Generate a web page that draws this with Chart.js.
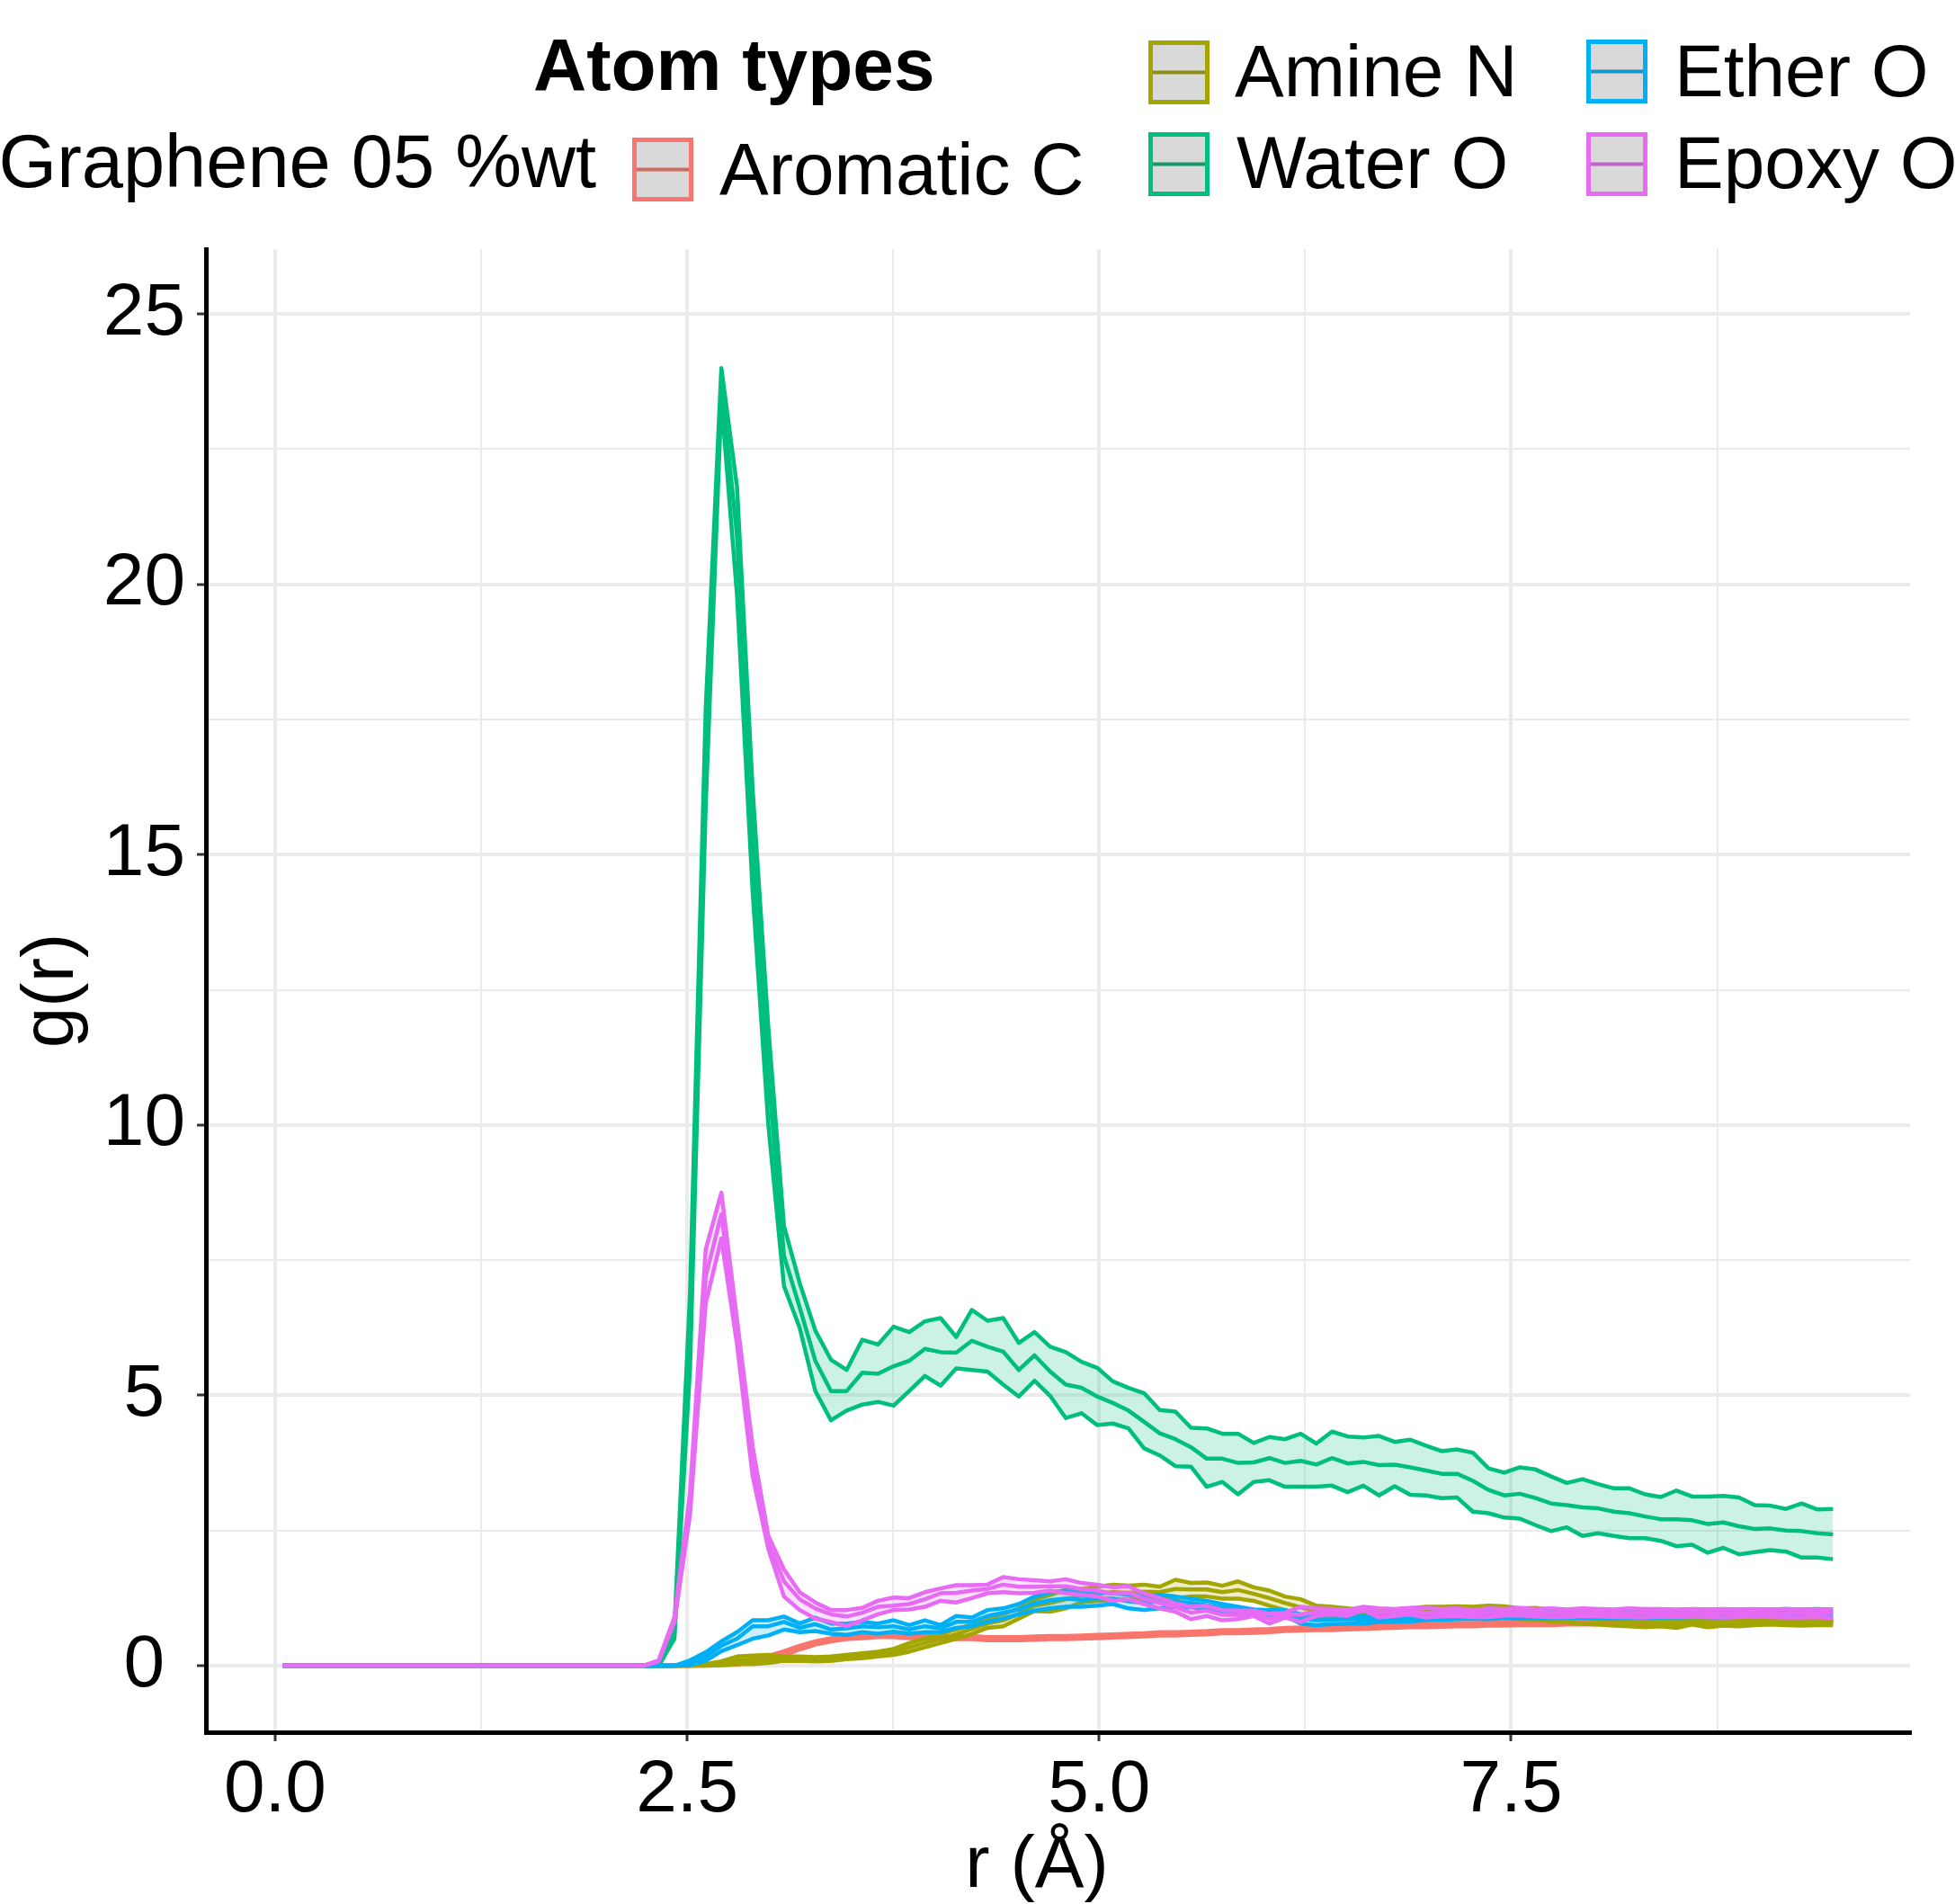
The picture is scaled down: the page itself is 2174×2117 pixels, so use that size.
<!DOCTYPE html>
<html>
<head>
<meta charset="utf-8">
<script src="https://cdn.jsdelivr.net/npm/chart.js@4.4.1/dist/chart.umd.min.js"></script>
<style>
  html, body { margin: 0; padding: 0; background: #fff; }
  #wrap { width: 2174px; height: 2117px; }
</style>
</head>
<body>
<div id="wrap"><canvas id="rdf" width="2174" height="2117"></canvas></div>
<script>
// r (Å) grid
const rVals = [
  0.0475,0.1425,0.2375,0.3325,0.4275,0.5225,0.6175,0.7125,0.8075,0.9025,
  0.9975,1.0925,1.1875,1.2825,1.3775,1.4725,1.5675,1.6625,1.7575,1.8525,
  1.9475,2.0425,2.1375,2.2325,2.3275,2.4225,2.5175,2.6125,2.7075,2.8025,
  2.8975,2.9925,3.0875,3.1825,3.2775,3.3725,3.4675,3.5625,3.6575,3.7525,
  3.8475,3.9425,4.0375,4.1325,4.2275,4.3225,4.4175,4.5125,4.6075,4.7025,
  4.7975,4.8925,4.9875,5.0825,5.1775,5.2725,5.3675,5.4625,5.5575,5.6525,
  5.7475,5.8425,5.9375,6.0325,6.1275,6.2225,6.3175,6.4125,6.5075,6.6025,
  6.6975,6.7925,6.8875,6.9825,7.0775,7.1725,7.2675,7.3625,7.4575,7.5525,
  7.6475,7.7425,7.8375,7.9325,8.0275,8.1225,8.2175,8.3125,8.4075,8.5025,
  8.5975,8.6925,8.7875,8.8825,8.9775,9.0725,9.1675,9.2625,9.3575,9.4525
];

// Aromatic C
const aromC_hi = [
  0,0,0,0,0,0,0,0,0,0, 0,0,0,0,0,0,0,0,0,0,
  0,0,0,0,0,0,0,0.02,0.05,0.08,
  0.12,0.18,0.27,0.37,0.45,0.51,0.55,0.57,0.59,0.59,
  0.57,0.56,0.55,0.55,0.55,0.53,0.53,0.53,0.54,0.55,
  0.55,0.56,0.57,0.58,0.59,0.60,0.62,0.62,0.63,0.64,
  0.66,0.66,0.67,0.68,0.70,0.71,0.72,0.72,0.73,0.74,
  0.75,0.76,0.77,0.77,0.78,0.79,0.79,0.80,0.80,0.81,
  0.81,0.81,0.82,0.82,0.82,0.83,0.82,0.83,0.83,0.84,
  0.83,0.84,0.84,0.84,0.85,0.84,0.85,0.85,0.85,0.85
];
const aromC_mid = [
  0,0,0,0,0,0,0,0,0,0, 0,0,0,0,0,0,0,0,0,0,
  0,0,0,0,0,0,0,0.01,0.03,0.05,
  0.09,0.15,0.23,0.34,0.42,0.48,0.52,0.54,0.56,0.56,
  0.54,0.53,0.52,0.52,0.52,0.50,0.50,0.50,0.51,0.52,
  0.52,0.53,0.54,0.55,0.56,0.57,0.59,0.59,0.60,0.61,
  0.63,0.63,0.64,0.65,0.67,0.68,0.69,0.69,0.70,0.71,
  0.72,0.73,0.74,0.74,0.75,0.76,0.76,0.77,0.77,0.78,
  0.78,0.78,0.79,0.79,0.79,0.80,0.79,0.80,0.80,0.81,
  0.80,0.81,0.81,0.81,0.82,0.81,0.82,0.82,0.82,0.82
];
const aromC_lo = [
  0,0,0,0,0,0,0,0,0,0, 0,0,0,0,0,0,0,0,0,0,
  0,0,0,0,0,0,0,0,0.01,0.02,
  0.06,0.12,0.19,0.30,0.39,0.45,0.49,0.51,0.53,0.53,
  0.51,0.50,0.49,0.49,0.49,0.47,0.47,0.47,0.48,0.49,
  0.49,0.50,0.51,0.52,0.53,0.54,0.56,0.56,0.57,0.58,
  0.60,0.60,0.61,0.62,0.64,0.65,0.66,0.66,0.67,0.68,
  0.69,0.70,0.71,0.71,0.72,0.73,0.73,0.74,0.74,0.75,
  0.75,0.75,0.76,0.76,0.76,0.77,0.76,0.77,0.77,0.78,
  0.77,0.78,0.78,0.78,0.79,0.78,0.79,0.79,0.79,0.79
];

// Amine N
const amineN_hi = [
  0,0,0,0,0,0,0,0,0,0, 0,0,0,0,0,0,0,0,0,0,
  0,0,0,0,0,0,0.01,0.03,0.08,0.17,
  0.19,0.20,0.17,0.17,0.16,0.17,0.20,0.23,0.26,0.31,
  0.42,0.50,0.59,0.67,0.77,0.87,0.95,1.06,1.22,1.31,
  1.41,1.42,1.46,1.50,1.48,1.50,1.46,1.59,1.53,1.54,
  1.48,1.56,1.45,1.39,1.28,1.23,1.11,1.09,1.06,1.03,
  1.03,1.04,1.06,1.09,1.09,1.10,1.09,1.11,1.10,1.06,
  1.07,1.03,1.00,0.98,0.93,0.91,0.89,0.86,0.85,0.84,
  0.84,0.82,0.82,0.84,0.82,0.84,0.84,0.83,0.84,0.84
];
const amineN_mid = [
  0,0,0,0,0,0,0,0,0,0, 0,0,0,0,0,0,0,0,0,0,
  0,0,0,0,0,0,0,0.01,0.04,0.10,
  0.11,0.12,0.13,0.13,0.12,0.13,0.16,0.18,0.21,0.25,
  0.34,0.42,0.50,0.58,0.68,0.78,0.84,0.96,1.11,1.16,
  1.23,1.30,1.33,1.36,1.35,1.37,1.36,1.42,1.41,1.41,
  1.36,1.40,1.33,1.25,1.16,1.08,1.00,0.99,0.98,0.97,
  0.96,0.98,1.00,1.02,1.02,1.02,1.01,1.02,1.00,0.96,
  0.96,0.93,0.90,0.88,0.85,0.83,0.81,0.79,0.79,0.77,
  0.80,0.77,0.78,0.79,0.79,0.80,0.79,0.78,0.80,0.80
];
const amineN_lo = [
  0,0,0,0,0,0,0,0,0,0, 0,0,0,0,0,0,0,0,0,0,
  0,0,0,0,0,0,0,0,0.01,0.03,
  0.03,0.05,0.09,0.09,0.08,0.09,0.12,0.14,0.17,0.20,
  0.26,0.34,0.42,0.50,0.59,0.70,0.73,0.87,1.01,1.00,
  1.06,1.17,1.20,1.21,1.23,1.24,1.26,1.25,1.28,1.28,
  1.24,1.24,1.20,1.11,1.03,0.92,0.89,0.89,0.89,0.92,
  0.89,0.93,0.95,0.96,0.95,0.94,0.92,0.92,0.89,0.86,
  0.85,0.82,0.80,0.78,0.76,0.74,0.73,0.71,0.73,0.70,
  0.76,0.71,0.74,0.73,0.75,0.76,0.75,0.74,0.75,0.75
];

// Water O
const waterO_hi = [
  0,0,0,0,0,0,0,0,0,0, 0,0,0,0,0,0,0,0,0,0,
  0,0,0,0,0.02,0.7,6.9,17.7,24.0,21.8,
  16.2,11.8,8.13,7.08,6.20,5.66,5.47,6.03,5.94,6.27,
  6.17,6.37,6.43,6.08,6.58,6.38,6.43,5.97,6.17,5.90,
  5.80,5.62,5.51,5.26,5.14,5.04,4.73,4.70,4.40,4.39,
  4.29,4.29,4.12,4.23,4.19,4.29,4.11,4.33,4.24,4.22,
  4.25,4.14,4.18,4.07,3.97,4.00,3.94,3.65,3.57,3.67,
  3.63,3.50,3.38,3.45,3.36,3.28,3.28,3.17,3.12,3.24,
  3.13,3.13,3.14,3.11,2.97,2.96,2.90,3.00,2.89,2.90
];
const waterO_mid = [
  0,0,0,0,0,0,0,0,0,0, 0,0,0,0,0,0,0,0,0,0,
  0,0,0,0,0.01,0.6,6.2,16.8,23.7,20.9,
  15.2,10.9,7.58,6.63,5.64,5.08,5.08,5.42,5.40,5.54,
  5.64,5.86,5.80,5.79,6.01,5.90,5.81,5.47,5.74,5.44,
  5.20,5.14,4.98,4.86,4.72,4.51,4.30,4.19,4.04,3.83,
  3.83,3.75,3.76,3.84,3.75,3.79,3.72,3.84,3.74,3.77,
  3.71,3.72,3.67,3.61,3.55,3.55,3.42,3.25,3.15,3.18,
  3.10,3.00,2.97,2.93,2.91,2.85,2.82,2.76,2.71,2.71,
  2.69,2.62,2.65,2.58,2.53,2.54,2.50,2.49,2.45,2.43
];
const waterO_lo = [
  0,0,0,0,0,0,0,0,0,0, 0,0,0,0,0,0,0,0,0,0,
  0,0,0,0,0,0.5,5.5,15.9,23.4,19.8,
  14.3,10.0,7.02,6.25,5.08,4.54,4.72,4.83,4.88,4.81,
  5.08,5.36,5.18,5.50,5.47,5.44,5.20,4.98,5.27,4.99,
  4.58,4.67,4.45,4.48,4.39,4.02,3.89,3.69,3.68,3.31,
  3.40,3.17,3.40,3.43,3.31,3.31,3.31,3.33,3.21,3.33,
  3.15,3.32,3.16,3.15,3.10,3.11,2.85,2.82,2.74,2.72,
  2.60,2.49,2.56,2.40,2.45,2.40,2.36,2.36,2.31,2.21,
  2.24,2.09,2.18,2.06,2.10,2.14,2.11,2.00,2.00,1.97
];

// Ether O
const etherO_hi = [
  0,0,0,0,0,0,0,0,0,0, 0,0,0,0,0,0,0,0,0,0,
  0,0,0,0,0,0,0.10,0.25,0.45,0.62,
  0.84,0.84,0.91,0.78,0.89,0.78,0.78,0.81,0.78,0.84,
  0.75,0.84,0.75,0.92,0.89,1.03,1.06,1.14,1.28,1.36,
  1.39,1.34,1.36,1.34,1.31,1.28,1.31,1.28,1.24,1.20,
  1.14,1.09,1.04,1.03,1.03,0.95,0.92,0.93,0.93,0.92,
  0.92,0.92,0.95,0.98,0.99,1.00,1.01,1.00,1.02,1.01,
  1.03,1.01,1.02,1.04,1.02,1.01,1.03,1.02,1.03,1.02,
  1.03,1.04,1.03,1.04,1.03,1.04,1.05,1.04,1.05,1.04
];
const etherO_mid = [
  0,0,0,0,0,0,0,0,0,0, 0,0,0,0,0,0,0,0,0,0,
  0,0,0,0,0,0,0.05,0.17,0.37,0.50,
  0.73,0.73,0.81,0.70,0.77,0.67,0.69,0.73,0.71,0.73,
  0.67,0.73,0.69,0.81,0.81,0.92,0.98,1.04,1.15,1.21,
  1.24,1.22,1.24,1.24,1.19,1.16,1.19,1.19,1.16,1.12,
  1.07,1.02,0.98,0.97,0.97,0.87,0.84,0.85,0.86,0.85,
  0.86,0.87,0.88,0.91,0.92,0.93,0.94,0.93,0.95,0.94,
  0.95,0.94,0.95,0.96,0.95,0.94,0.96,0.95,0.96,0.95,
  0.96,0.97,0.96,0.97,0.96,0.97,0.98,0.97,0.98,0.98
];
const etherO_lo = [
  0,0,0,0,0,0,0,0,0,0, 0,0,0,0,0,0,0,0,0,0,
  0,0,0,0,0,0,0.01,0.09,0.27,0.38,
  0.50,0.56,0.67,0.62,0.64,0.59,0.57,0.62,0.59,0.63,
  0.59,0.62,0.62,0.70,0.73,0.81,0.87,0.95,1.02,1.06,
  1.09,1.09,1.11,1.14,1.06,1.03,1.06,1.09,1.08,1.04,
  1.00,0.95,0.92,0.92,0.92,0.78,0.75,0.77,0.78,0.78,
  0.81,0.81,0.82,0.84,0.85,0.86,0.87,0.86,0.88,0.87,
  0.88,0.88,0.88,0.89,0.88,0.87,0.89,0.88,0.89,0.89,
  0.90,0.90,0.89,0.91,0.90,0.91,0.92,0.91,0.92,0.92
];

// Epoxy O
const epoxyO_hi = [
  0,0,0,0,0,0,0,0,0,0, 0,0,0,0,0,0,0,0,0,0,
  0,0,0,0,0.10,0.90,3.2,7.7,8.75,6.4,
  4.05,2.40,1.78,1.36,1.17,1.03,1.03,1.07,1.20,1.26,
  1.25,1.36,1.43,1.49,1.49,1.50,1.64,1.60,1.58,1.56,
  1.60,1.53,1.50,1.45,1.47,1.34,1.25,1.15,1.09,1.11,
  1.03,1.02,1.02,0.96,0.98,1.09,1.06,1.05,1.03,1.09,
  1.06,1.05,1.07,1.07,1.05,1.06,1.03,1.06,1.05,1.07,
  1.05,1.06,1.04,1.06,1.05,1.04,1.06,1.05,1.05,1.04,
  1.05,1.04,1.05,1.04,1.05,1.04,1.05,1.04,1.04,1.04
];
const epoxyO_mid = [
  0,0,0,0,0,0,0,0,0,0, 0,0,0,0,0,0,0,0,0,0,
  0,0,0,0,0.09,0.85,3.0,7.2,8.35,6.18,
  3.78,2.28,1.56,1.23,1.06,0.95,0.91,0.98,1.09,1.11,
  1.14,1.23,1.34,1.35,1.39,1.42,1.50,1.46,1.46,1.47,
  1.47,1.42,1.39,1.33,1.35,1.24,1.16,1.08,0.98,1.02,
  0.94,0.94,0.97,0.87,0.94,0.95,0.99,1.00,0.98,1.06,
  0.98,0.99,1.01,0.98,0.98,0.99,0.97,0.98,0.99,1.00,
  0.98,0.98,0.97,0.99,0.98,0.97,0.98,0.97,0.98,0.97,
  0.98,0.97,0.97,0.97,0.98,0.97,0.97,0.96,0.97,0.96
];
const epoxyO_lo = [
  0,0,0,0,0,0,0,0,0,0, 0,0,0,0,0,0,0,0,0,0,
  0,0,0,0,0.08,0.80,2.8,6.7,7.9,5.94,
  3.50,2.16,1.28,1.03,0.87,0.81,0.73,0.84,0.95,1.03,
  1.04,1.09,1.20,1.17,1.25,1.34,1.36,1.34,1.35,1.39,
  1.34,1.31,1.28,1.20,1.23,1.14,1.06,1.00,0.86,0.92,
  0.84,0.86,0.92,0.78,0.89,0.81,0.92,0.95,0.92,1.03,
  0.89,0.92,0.95,0.89,0.91,0.92,0.90,0.90,0.93,0.93,
  0.91,0.90,0.90,0.92,0.91,0.90,0.90,0.89,0.91,0.90,
  0.91,0.90,0.89,0.90,0.91,0.90,0.89,0.89,0.90,0.88
];

const seriesNames = ['Aromatic C', 'Amine N', 'Water O', 'Ether O', 'Epoxy O'];
const legendTitle = 'Atom types';
const groupLabel = 'Graphene 05 %wt';
const xTitle = 'r (Å)';
const yTitle = 'g(r)';

const xTicks = [0, 1.25, 2.5, 3.75, 5, 6.25, 7.5, 8.75];
const xTickLabels = ['0.0', '', '2.5', '', '5.0', '', '7.5', ''];
const yTicks = [0, 2.5, 5, 7.5, 10, 12.5, 15, 17.5, 20, 22.5, 25];
const yTickLabels = ['0', '', '5', '', '10', '', '15', '', '20', '', '25'];

// ggplot hue palette
const colors = {
  'Aromatic C': '#F8766D',
  'Amine N': '#A3A500',
  'Water O': '#00BF7D',
  'Ether O': '#00B0F6',
  'Epoxy O': '#E76BF3'
};
const keyLineColors = {
  'Aromatic C': '#d06a5e',
  'Amine N': '#8c8d12',
  'Water O': '#13996a',
  'Ether O': '#1a95c8',
  'Epoxy O': '#c162ca'
};
const bands = {
  'Aromatic C': [aromC_hi, aromC_mid, aromC_lo],
  'Amine N': [amineN_hi, amineN_mid, amineN_lo],
  'Water O': [waterO_hi, waterO_mid, waterO_lo],
  'Ether O': [etherO_hi, etherO_mid, etherO_lo],
  'Epoxy O': [epoxyO_hi, epoxyO_mid, epoxyO_lo]
};

const FONT = '"Liberation Sans", Arial, Helvetica, sans-serif';
Chart.defaults.font.family = FONT;

function hexA(hex, a) {
  const n = parseInt(hex.slice(1), 16);
  return `rgba(${(n >> 16) & 255},${(n >> 8) & 255},${n & 255},${a})`;
}
const toPts = (arr) => rVals.map((r, i) => ({ x: r, y: arr[i] }));

// first dataset is painted last in Chart.js, so Epoxy O goes first (on top like ggplot)
const datasets = [];
seriesNames.slice().reverse().forEach(name => {
  const [hi, mid, lo] = bands[name];
  const col = colors[name];
  const base = {
    borderColor: col, borderWidth: 4.5, pointRadius: 0, tension: 0,
    borderJoinStyle: 'round', borderCapStyle: 'butt'
  };
  datasets.push({ ...base, label: name + ' hi', data: toPts(hi), fill: '+2', backgroundColor: hexA(col, 0.2) });
  datasets.push({ ...base, label: name, data: toPts(mid), fill: false });
  datasets.push({ ...base, label: name + ' lo', data: toPts(lo), fill: false });
});

// legend keys placed like the ggplot legend
const keySpots = {
  'Aromatic C': { x: 703, y: 153, tx: 800, ty: 216 },
  'Amine N': { x: 1277, y: 45, tx: 1373, ty: 107 },
  'Water O': { x: 1277, y: 147, tx: 1375, ty: 209 },
  'Ether O': { x: 1764, y: 44, tx: 1862, ty: 107 },
  'Epoxy O': { x: 1764, y: 147, tx: 1862, ty: 209 }
};

const legendPlugin = {
  id: 'atomLegend',
  afterDraw(chart) {
    const ctx = chart.ctx;
    ctx.save();
    ctx.fillStyle = '#000';
    ctx.textBaseline = 'alphabetic';
    ctx.textAlign = 'left';
    ctx.font = `bold 82px ${FONT}`;
    ctx.fillText(legendTitle, 593, 100);
    ctx.font = `83px ${FONT}`;
    ctx.textAlign = 'right';
    ctx.fillText(groupLabel, 663, 208);
    ctx.font = `82px ${FONT}`;
    ctx.textAlign = 'left';
    seriesNames.forEach(name => {
      const k = keySpots[name];
      const w = 68, h = 71;
      ctx.fillStyle = '#d9d9d9';
      ctx.fillRect(k.x, k.y, w, h);
      ctx.strokeStyle = colors[name];
      ctx.lineWidth = 5;
      ctx.strokeRect(k.x + 2.5, k.y + 2.5, w - 5, h - 5);
      ctx.strokeStyle = keyLineColors[name];
      ctx.lineWidth = 4;
      ctx.beginPath();
      ctx.moveTo(k.x + 5, k.y + h / 2);
      ctx.lineTo(k.x + w - 5, k.y + h / 2);
      ctx.stroke();
      ctx.fillStyle = '#000';
      ctx.fillText(name, k.tx, k.ty);
    });
    // x axis title, sitting a little left of the panel centre as in the original
    ctx.textAlign = 'center';
    ctx.fillText(xTitle, 1153, 2098);
    ctx.restore();
  }
};

const gridLine = (c) => (c.index % 2 === 0 ? 4 : 2);
const tickCol = (c) => (c.index % 2 === 0 ? '#333' : 'rgba(0,0,0,0)');

const ctx = document.getElementById('rdf').getContext('2d');
new Chart(ctx, {
  type: 'line',
  data: { datasets },
  options: {
    responsive: false,
    animation: false,
    devicePixelRatio: 1,
    layout: { padding: { top: 277, right: 50, left: 0, bottom: 0 } },
    plugins: { legend: { display: false }, tooltip: { enabled: false } },
    scales: {
      x: {
        type: 'linear',
        min: -0.42,
        max: 9.92,
        afterBuildTicks: (s) => { s.ticks = xTicks.map(v => ({ value: v })); },
        afterFit: (s) => { s.height = 191; },
        ticks: {
          autoSkip: false, maxRotation: 0, padding: 6, color: '#000',
          font: { size: 82, lineHeight: 1.2 },
          callback: (v, i) => xTickLabels[i]
        },
        grid: { color: '#ebebeb', lineWidth: gridLine, tickLength: 10, tickColor: tickCol, tickWidth: 3 },
        border: { display: true, color: '#000', width: 5 },
        title: { display: false }
      },
      y: {
        type: 'linear',
        min: -1.23,
        max: 26.2,
        afterBuildTicks: (s) => { s.ticks = yTicks.map(v => ({ value: v })); },
        afterFit: (s) => { s.width = 229; },
        ticks: {
          autoSkip: false, padding: 13, crossAlign: 'center', color: '#000',
          font: { size: 82, lineHeight: 1.2 },
          callback: (v, i) => yTickLabels[i]
        },
        grid: { color: '#ebebeb', lineWidth: gridLine, tickLength: 10, tickColor: tickCol, tickWidth: 3 },
        border: { display: true, color: '#000', width: 5 },
        title: {
          display: true, text: yTitle, color: '#000',
          font: { size: 82, lineHeight: 1 }, padding: { top: 17, bottom: 0 }
        }
      }
    }
  },
  plugins: [legendPlugin]
});
</script>
</body>
</html>
